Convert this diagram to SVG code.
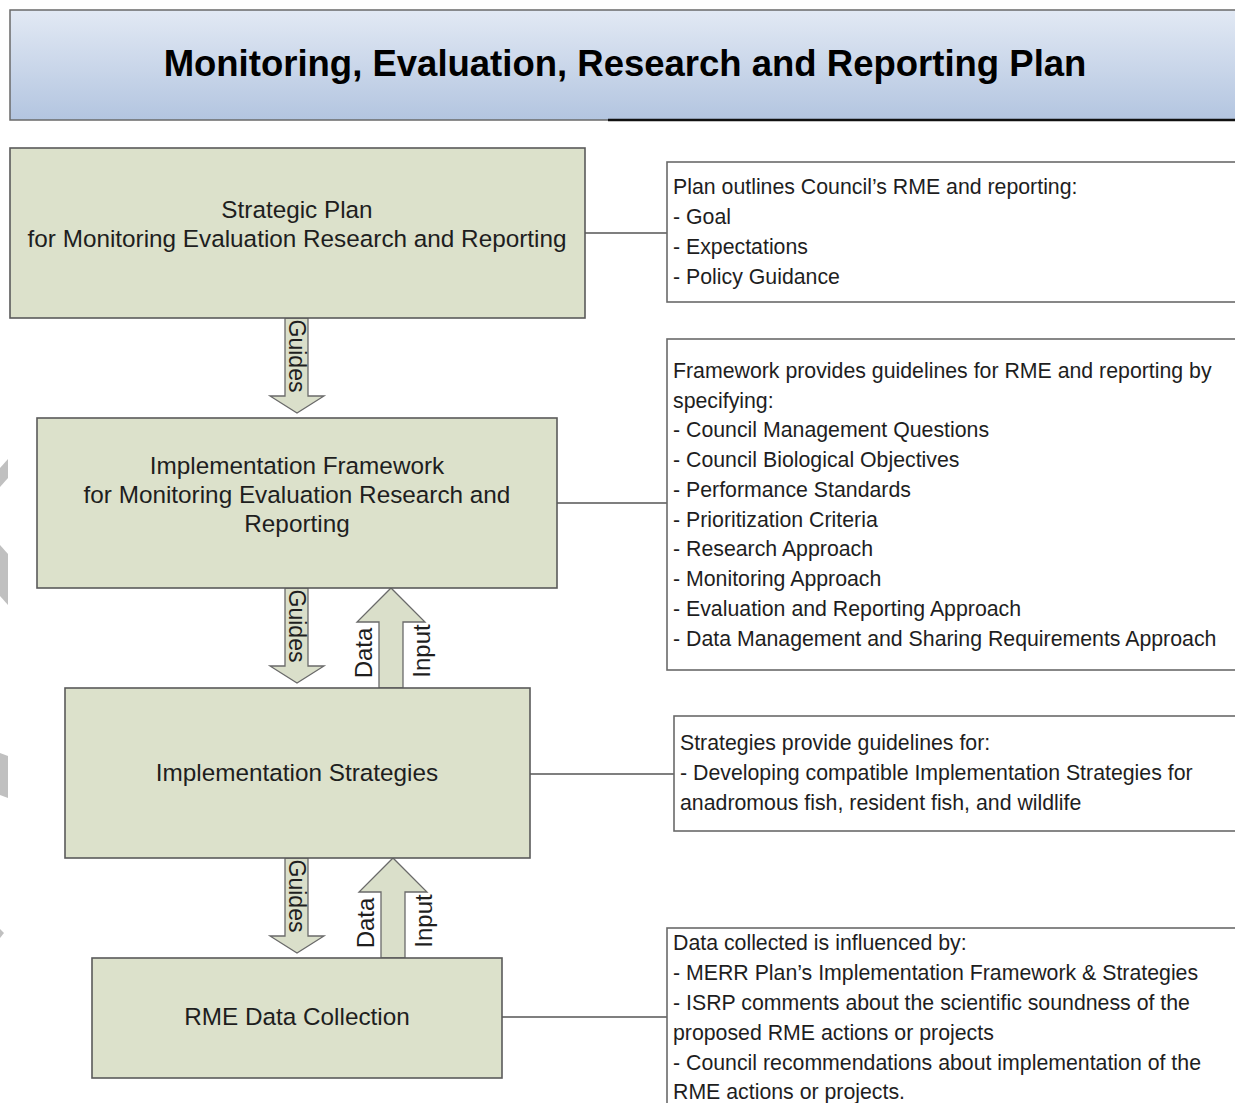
<svg xmlns="http://www.w3.org/2000/svg" width="1235" height="1103" viewBox="0 0 1235 1103">
<defs>
<linearGradient id="tg" x1="0" y1="0" x2="0" y2="1">
<stop offset="0" stop-color="#e2e9f4"/>
<stop offset="1" stop-color="#b3c5e0"/>
</linearGradient>
<style>
.box{fill:#dce1cb;stroke:#5a5a5a;stroke-width:1.6}
.note{fill:#ffffff;stroke:#6a6a6a;stroke-width:1.6}
.arr{fill:#dadfca;stroke:#6a6a6a;stroke-width:1.3}
.con{stroke:#555;stroke-width:1.4;fill:none}
.t{font-family:"Liberation Sans",Arial,sans-serif;font-size:24.3px;fill:#1e1e1e;text-anchor:middle}
.n{font-family:"Liberation Sans",Arial,sans-serif;font-size:21.3px;fill:#1e1e1e}
.a{font-family:"Liberation Sans",Arial,sans-serif;font-size:23px;fill:#1e1e1e;text-anchor:middle}
.d{font-family:"Liberation Sans",Arial,sans-serif;font-size:24px;fill:#1e1e1e;text-anchor:middle}
.ttl{font-family:"Liberation Sans",Arial,sans-serif;font-size:36.5px;font-weight:bold;fill:#000;text-anchor:middle}
</style>
</defs>
<rect width="1235" height="1103" fill="#ffffff"/>
<g id="title">
<rect x="10" y="10" width="1235" height="110" fill="url(#tg)" stroke="#6a6a6a" stroke-width="1.5"/>
<line x1="608" y1="120" x2="1235" y2="120" stroke="#111" stroke-width="2.5"/>
<text class="ttl" x="625" y="76">Monitoring, Evaluation, Research and Reporting Plan</text>
</g>
<g id="edge-marks" fill="#c0c0c0">
<polygon points="0,468 8,459 8,478 0,487"/>
<polygon points="0,545 8,554 8,605 0,596"/>
<polygon points="0,753 8,756 8,798 0,795"/>
<polygon points="0,929 4,933 0,938"/>
</g>
<g id="connectors">
<line class="con" x1="585" y1="233" x2="667" y2="233"/>
<line class="con" x1="557" y1="503" x2="667" y2="503"/>
<line class="con" x1="530" y1="774" x2="674" y2="774"/>
<line class="con" x1="502" y1="1017" x2="667" y2="1017"/>
<g id="guides1">
<polygon class="arr" points="285,318 308,318 308,396 324,396 297,413 270,396 285,396"/>
<text class="a" transform="translate(289,356) rotate(90)">Guides</text>
</g>
<g id="guides2">
<polygon class="arr" points="285,588 308,588 308,666 324,666 297,683 270,666 285,666"/>
<text class="a" transform="translate(289,626) rotate(90)">Guides</text>
</g>
<g id="guides3">
<polygon class="arr" points="285,858 308,858 308,936 324,936 297,953 270,936 285,936"/>
<text class="a" transform="translate(289,896) rotate(90)">Guides</text>
</g>
<g id="datainput1">
<polygon class="arr" points="379,688 379,622 357,622 391,588 425,622 403,622 403,688"/>
<text class="d" transform="translate(372,653) rotate(-90)">Data</text>
<text class="d" transform="translate(430,651) rotate(-90)">Input</text>
</g>
<g id="datainput2">
<polygon class="arr" points="381,958 381,892 359,892 393,858 427,892 405,892 405,958"/>
<text class="d" transform="translate(374,923) rotate(-90)">Data</text>
<text class="d" transform="translate(432,921) rotate(-90)">Input</text>
</g>
</g>
<g id="node-strategic-plan">
<rect class="box" x="10" y="148" width="575" height="170"/>
<text class="t" x="297" y="218">Strategic Plan</text>
<text class="t" x="297" y="247">for Monitoring Evaluation Research and Reporting</text>
</g>
<g id="node-framework">
<rect class="box" x="37" y="418" width="520" height="170"/>
<text class="t" x="297" y="474">Implementation Framework</text>
<text class="t" x="297" y="503">for Monitoring Evaluation Research and</text>
<text class="t" x="297" y="532">Reporting</text>
</g>
<g id="node-strategies">
<rect class="box" x="65" y="688" width="465" height="170"/>
<text class="t" x="297" y="781">Implementation Strategies</text>
</g>
<g id="node-data-collection">
<rect class="box" x="92" y="958" width="410" height="120"/>
<text class="t" x="297" y="1025">RME Data Collection</text>
</g>
<g id="note-plan">
<rect class="note" x="667" y="162" width="580" height="140"/>
<text class="n" x="673" y="194">Plan outlines Council’s RME and reporting:</text>
<text class="n" x="673" y="224">- Goal</text>
<text class="n" x="673" y="254">- Expectations</text>
<text class="n" x="673" y="284">- Policy Guidance</text>
</g>
<g id="note-framework">
<rect class="note" x="667" y="339" width="580" height="331"/>
<text class="n" x="673" y="378">Framework provides guidelines for RME and reporting by</text>
<text class="n" x="673" y="408">specifying:</text>
<text class="n" x="673" y="437">- Council Management Questions</text>
<text class="n" x="673" y="467">- Council Biological Objectives</text>
<text class="n" x="673" y="497">- Performance Standards</text>
<text class="n" x="673" y="527">- Prioritization Criteria</text>
<text class="n" x="673" y="556">- Research Approach</text>
<text class="n" x="673" y="586">- Monitoring Approach</text>
<text class="n" x="673" y="616">- Evaluation and Reporting Approach</text>
<text class="n" x="673" y="646">- Data Management and Sharing Requirements Approach</text>
</g>
<g id="note-strategies">
<rect class="note" x="674" y="716" width="573" height="115"/>
<text class="n" x="680" y="750">Strategies provide guidelines for:</text>
<text class="n" x="680" y="780">- Developing compatible Implementation Strategies for</text>
<text class="n" x="680" y="810">anadromous fish, resident fish, and wildlife</text>
</g>
<g id="note-data">
<rect class="note" x="667" y="928" width="580" height="190"/>
<text class="n" x="673" y="950">Data collected is influenced by:</text>
<text class="n" x="673" y="980">- MERR Plan’s Implementation Framework &amp; Strategies</text>
<text class="n" x="673" y="1010">- ISRP comments about the scientific soundness of the</text>
<text class="n" x="673" y="1040">proposed RME actions or projects</text>
<text class="n" x="673" y="1070">- Council recommendations about implementation of the</text>
<text class="n" x="673" y="1099">RME actions or projects.</text>
</g>
</svg>
